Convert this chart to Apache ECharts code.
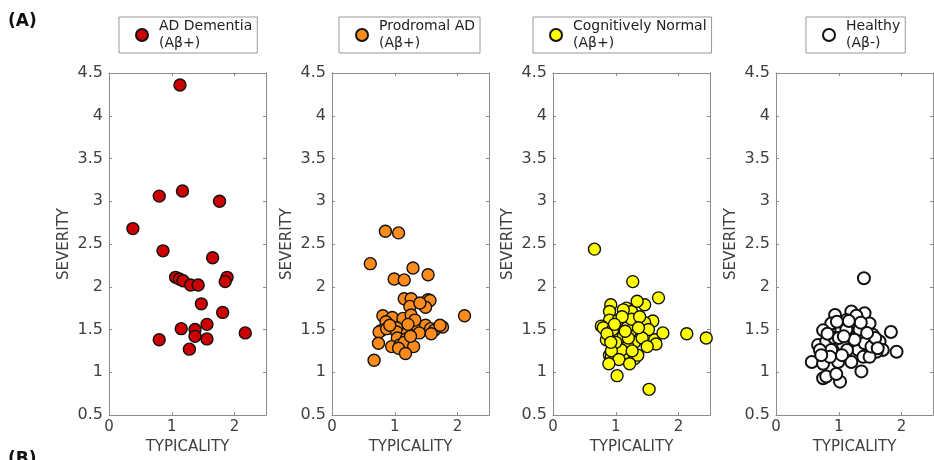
<!DOCTYPE html>
<html>
<head>
<meta charset="utf-8">
<script src="https://cdn.jsdelivr.net/npm/echarts@6/dist/echarts.min.js"></script>
<style>
  html, body { margin: 0; padding: 0; background: #fff; }
  #main { width: 934px; height: 460px; }
</style>
</head>
<body>
<div id="main"></div>
<script>
// group names (legend text)
var groupNames = ['AD Dementia\n(Aβ+)', 'Prodromal AD\n(Aβ+)', 'Cognitively Normal\n(Aβ+)', 'Healthy\n(Aβ-)'];

// [typicality, severity]
var adDementia = [
  [1.13,4.36],[0.80,3.06],[1.17,3.12],[1.76,3.00],[0.38,2.68],[0.86,2.42],[1.65,2.34],
  [1.06,2.11],[1.12,2.09],[1.18,2.07],[1.30,2.02],[1.42,2.02],[1.88,2.11],[1.85,2.06],
  [1.47,1.80],[1.81,1.70],[1.15,1.51],[1.56,1.56],[1.37,1.50],[1.37,1.42],[1.56,1.39],
  [0.80,1.38],[1.28,1.27],[2.17,1.46]
];
var prodromalAD = [
  [0.85,2.65],[1.06,2.63],[0.61,2.27],[1.29,2.22],[1.53,2.14],[0.99,2.09],[1.15,2.08],
  [1.15,1.86],[1.26,1.86],[1.24,1.77],[1.53,1.85],[1.56,1.84],[1.49,1.76],[1.40,1.81],
  [2.11,1.66],[0.81,1.66],[0.96,1.64],[1.13,1.63],[1.26,1.67],[0.86,1.59],[0.79,1.49],
  [0.75,1.47],[0.87,1.51],[1.03,1.52],[1.03,1.47],[1.20,1.46],[1.34,1.55],[1.49,1.55],
  [1.39,1.46],[1.57,1.51],[1.63,1.49],[1.76,1.53],[1.72,1.55],[1.58,1.45],[1.04,1.40],
  [1.18,1.39],[0.74,1.34],[0.95,1.30],[1.08,1.32],[1.15,1.35],[1.30,1.30],[1.06,1.28],
  [1.17,1.22],[0.67,1.14],[1.25,1.42],[0.92,1.55],[1.32,1.61],[1.21,1.56]
];
var cognitivelyNormal = [
  [0.92,1.79],[0.90,1.71],[1.17,1.75],[1.25,1.71],[1.12,1.73],[0.90,1.61],[1.04,1.61],
  [0.77,1.54],[0.80,1.52],[1.59,1.60],[1.46,1.58],[1.04,1.46],[1.23,1.47],[1.43,1.47],
  [1.30,1.35],[1.62,1.38],[1.64,1.33],[0.96,1.40],[0.85,1.38],[1.12,1.42],[0.96,1.30],
  [1.14,1.22],[0.90,1.20],[0.93,1.18],[1.30,1.16],[1.35,1.20],[1.07,1.55],[1.32,1.56],
  [1.18,1.52],[1.52,1.50],[1.19,1.30],[1.09,1.26],[0.95,1.50],[1.00,1.35],[1.25,1.62],
  [1.38,1.65],[0.86,1.45],[1.10,1.65],[1.42,1.40],[1.50,1.30],[1.20,1.40],[0.93,1.25],
  [1.05,1.15],[1.26,1.25],[0.98,1.56],[1.15,1.48],[1.36,1.52],[0.92,1.35],[1.22,1.10],
  [0.66,2.44],[1.27,2.06],[1.68,1.87],[1.46,1.79],[1.34,1.83],[1.75,1.46],[2.13,1.45],
  [2.44,1.40],[0.89,1.10],[1.02,0.96],[1.53,0.80]
];
var healthy = [
  [1.40,2.10],[1.83,1.47],[1.92,1.24],[0.57,1.12],[0.75,0.93],[0.80,0.95],[1.02,0.89],
  [0.96,0.98],[1.36,1.01],[0.94,1.67],[1.20,1.71],[1.41,1.69],[1.31,1.61],[1.49,1.57],
  [0.88,1.57],[1.12,1.61],[0.75,1.49],[1.04,1.49],[1.54,1.44],[1.65,1.36],[1.70,1.26],
  [1.60,1.24],[0.67,1.32],[0.80,1.36],[0.88,1.26],[1.07,1.32],[1.31,1.26],[1.20,1.12],
  [0.99,1.12],[0.75,1.10],[1.39,1.18],[1.49,1.18],[1.22,1.40],[0.93,1.40],[0.70,1.26],
  [1.13,1.26],[1.41,1.34],[0.82,1.45],[1.33,1.50],[1.12,1.50],[0.97,1.59],[1.28,1.66],
  [1.52,1.30],[1.05,1.20],[0.86,1.18],[1.25,1.38],[1.58,1.40],[1.45,1.46],[0.72,1.20],
  [1.00,1.40],[1.16,1.60],[1.35,1.58],[1.08,1.42],[1.62,1.28]
];
var groupData = [adDementia, prodromalAD, cognitivelyNormal, healthy];
var fillColors = ['#cc0000', '#ff8c1a', '#ffff00', '#ffffff'];

var gridLeft = [109, 332, 553, 776];
var legendLeft = [119, 339, 533, 806];
var font = 'DejaVu Sans';
var axisGray = '#8c8c8c';
var textGray = '#404040';

var grids = [], xAxes = [], yAxes = [], series = [], legends = [];

for (var i = 0; i < 4; i++) {
  grids.push({ left: gridLeft[i], top: 73, width: 157, height: 342, containLabel: false });

  // bottom axis with labels
  xAxes.push({
    gridIndex: i, type: 'value', min: 0, max: 2.5, interval: 1, position: 'bottom',
    name: 'TYPICALITY', nameLocation: 'middle', nameGap: 23,
    nameTextStyle: { fontFamily: font, fontSize: 15, color: textGray },
    axisLine: { show: true, onZero: false, lineStyle: { color: axisGray, width: 1 } },
    axisTick: { show: true, inside: true, length: 3, lineStyle: { color: axisGray } },
    axisLabel: { fontFamily: font, fontSize: 15, color: textGray, margin: 5, showMaxLabel: false },
    splitLine: { show: false }
  });
  // top mirror axis (ticks only)
  xAxes.push({
    gridIndex: i, type: 'value', min: 0, max: 2.5, interval: 1, position: 'top',
    axisLine: { show: true, onZero: false, lineStyle: { color: axisGray, width: 1 } },
    axisTick: { show: true, inside: true, length: 3, lineStyle: { color: axisGray } },
    axisLabel: { show: false }, splitLine: { show: false }
  });
  yAxes.push({
    gridIndex: i, type: 'value', min: 0.5, max: 4.5, interval: 0.5, position: 'left',
    name: 'SEVERITY', nameLocation: 'middle', nameGap: 37,
    nameTextStyle: { fontFamily: font, fontSize: 15, color: textGray },
    axisLine: { show: true, onZero: false, lineStyle: { color: axisGray, width: 1 } },
    axisTick: { show: true, inside: true, length: 3, lineStyle: { color: axisGray } },
    axisLabel: { fontFamily: font, fontSize: 16, color: textGray, margin: 6 },
    splitLine: { show: false }
  });
  yAxes.push({
    gridIndex: i, type: 'value', min: 0.5, max: 4.5, interval: 0.5, position: 'right',
    axisLine: { show: true, onZero: false, lineStyle: { color: axisGray, width: 1 } },
    axisTick: { show: true, inside: true, length: 3, lineStyle: { color: axisGray } },
    axisLabel: { show: false }, splitLine: { show: false }
  });

  series.push({
    name: groupNames[i], type: 'scatter',
    xAxisIndex: i * 2, yAxisIndex: i * 2,
    data: groupData[i],
    symbol: 'circle', symbolSize: 12,
    itemStyle: { color: fillColors[i], borderColor: '#111', borderWidth: i === 3 ? 2 : 1.4, opacity: 1 },
    emphasis: { disabled: true }
  });

  legends.push({
    data: [groupNames[i]], left: legendLeft[i], top: 17,
    orient: 'vertical', itemWidth: 12, itemHeight: 12,
    padding: [1, 5, 1, 16],
    borderColor: '#999', borderWidth: 1, borderRadius: 0,
    textStyle: { fontFamily: font, fontSize: 14, lineHeight: 17, color: '#222', padding: [0, 0, 0, 6] },
    selectedMode: false
  });
}

var chart = echarts.init(document.getElementById('main'), null, { renderer: 'canvas' });
chart.setOption({
  backgroundColor: '#fff',
  animation: false,
  grid: grids,
  xAxis: xAxes,
  yAxis: yAxes,
  legend: legends,
  series: series,
  graphic: [
    { type: 'text', left: 8, top: 13, style: { text: '(A)', fontFamily: font, fontSize: 17, fontWeight: 'bold', fill: '#111' } },
    { type: 'text', left: 8, top: 451, style: { text: '(B)', fontFamily: font, fontSize: 17, fontWeight: 'bold', fill: '#111' } }
  ]
});
</script>
</body>
</html>
